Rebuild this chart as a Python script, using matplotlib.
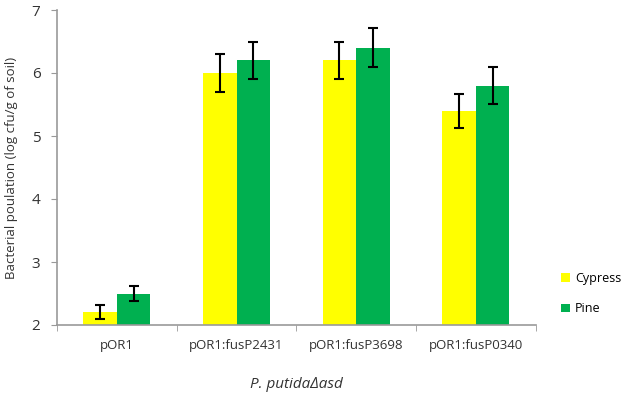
import numpy as np
import matplotlib.pyplot as plt

plt.rcParams['font.family'] = ['Open Sans', 'DejaVu Sans']

strains = ["pOR1", "pOR1:fusP2431", "pOR1:fusP3698", "pOR1:fusP0340"]
cypress = [2.2, 6.0, 6.2, 5.4]
cypress_err = [0.11, 0.3, 0.3, 0.27]
pine = [2.5, 6.2, 6.4, 5.8]
pine_err = [0.12, 0.3, 0.31, 0.29]

fig = plt.figure(figsize=(6.34, 4.0), dpi=100)
ax = fig.add_axes([0.09, 0.1875, 0.755, 0.7875])

x = np.arange(len(strains))
w = 0.28
err_kw = dict(ecolor="black", elinewidth=1.5, capsize=3.5, capthick=1.5)
ax.bar(x - w/2, cypress, w, color="#FFFF00", label="Cypress",
       yerr=cypress_err, error_kw=err_kw)
ax.bar(x + w/2, pine, w, color="#00B050", label="Pine",
       yerr=pine_err, error_kw=err_kw)

ax.set_ylim(2, 7)
ax.set_xlim(-0.5, len(strains) - 0.5)
ax.set_yticks(range(2, 8))
ax.set_xticks(x)
ax.set_xticklabels(strains, fontsize=9.5, color="#333333")
ax.set_xticks(np.arange(-0.5, len(strains)), minor=True)
ax.tick_params(axis="x", which="major", length=0, pad=10)
ax.tick_params(axis="x", which="minor", length=4, color="#999999", direction="out")
ax.tick_params(axis="y", length=4, pad=8, color="#999999", labelsize=11, labelcolor="#333333")

for s in ["top", "right"]:
    ax.spines[s].set_visible(False)
for s in ["left", "bottom"]:
    ax.spines[s].set_color("#999999")
    ax.spines[s].set_linewidth(1.2)

ax.set_ylabel("Bacterial poulation (log cfu/g of soil)", fontsize=9.5, color="#333333", labelpad=10)
ax.set_xlabel("P. putida\u0394asd", fontsize=11, style="italic", color="#333333", labelpad=18)

ax.legend(loc="center left", bbox_to_anchor=(1.03, 0.1), frameon=False,
          fontsize=9, handlelength=0.7, handleheight=0.7, labelspacing=1.4,
          handletextpad=0.4)

fig.savefig("out.png", dpi=100)
